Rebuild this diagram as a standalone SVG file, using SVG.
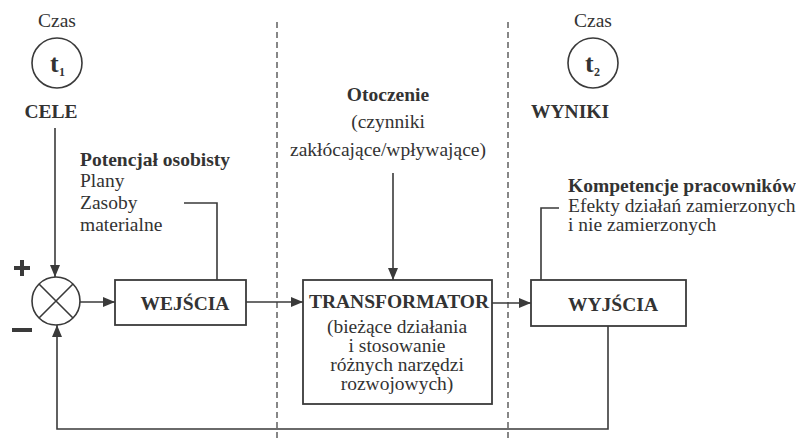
<svg xmlns="http://www.w3.org/2000/svg" width="796" height="439" viewBox="0 0 796 439">
<defs>
<style>
.t{font-family:"Liberation Serif","Times New Roman",serif;font-size:19.5px;fill:#333}
.b{font-weight:bold}
.ln{fill:none;stroke:#3a3a3a;stroke-width:1.6}
.bx{fill:#fff;stroke:#3a3a3a;stroke-width:1.8}
.dash{fill:none;stroke:#555;stroke-width:1.4;stroke-dasharray:6 4}
</style>
<marker id="ah" viewBox="0 0 12 10" refX="12" refY="5" markerWidth="12" markerHeight="10" markerUnits="userSpaceOnUse" orient="auto">
<path d="M0,0 L12,5 L0,10 Z" fill="#3a3a3a"/>
</marker>
</defs>
<rect width="796" height="439" fill="#fff"/>
<g id="dividers">
<line class="dash" x1="277" y1="22" x2="277" y2="439"/>
<line class="dash" x1="508" y1="22" x2="508" y2="439"/>
</g>
<g id="connectors">
<path class="ln" d="M55,128 V277" marker-end="url(#ah)"/>
<path class="ln" d="M80,302 H115" marker-end="url(#ah)"/>
<path class="ln" d="M246,302 H303" marker-end="url(#ah)"/>
<path class="ln" d="M492,303 H531" marker-end="url(#ah)"/>
<path class="ln" d="M393,173 V280" marker-end="url(#ah)"/>
<path class="ln" d="M184,203 H217 V280"/>
<path class="ln" d="M559,208 H541 V280"/>
<path class="ln" d="M608,326 V429 H57 V325" marker-end="url(#ah)"/>
</g>
<g id="time1">
<text class="t" x="57" y="27" text-anchor="middle">Czas</text>
<circle class="ln" cx="57" cy="63" r="25"/>
<text class="t b" x="50" y="72" style="font-size:26px">t</text>
<text class="t b" x="59" y="76" style="font-size:12px">1</text>
</g>
<g id="cele"><text class="t b" x="51" y="118" text-anchor="middle">CELE</text></g>
<g id="time2">
<text class="t" x="593" y="27" text-anchor="middle">Czas</text>
<circle class="ln" cx="593" cy="63" r="25"/>
<text class="t b" x="585" y="72" style="font-size:26px">t</text>
<text class="t b" x="594" y="76" style="font-size:12px">2</text>
</g>
<g id="wyniki"><text class="t b" x="531" y="118">WYNIKI</text></g>
<g id="potencjal">
<text class="t b" x="80" y="166">Potencjał osobisty</text>
<text class="t" x="80" y="187">Plany</text>
<text class="t" x="80" y="209">Zasoby</text>
<text class="t" x="80" y="231">materialne</text>
</g>
<g id="otoczenie">
<text class="t b" x="388" y="101" text-anchor="middle">Otoczenie</text>
<text class="t" x="388" y="128" text-anchor="middle">(czynniki</text>
<text class="t" x="388" y="156" text-anchor="middle">zakłócające/wpływające)</text>
</g>
<g id="kompetencje">
<text class="t b" x="568" y="192">Kompetencje pracowników</text>
<text class="t" x="568" y="212">Efekty działań zamierzonych</text>
<text class="t" x="568" y="231">i nie zamierzonych</text>
</g>
<g id="sum">
<circle class="ln" cx="56" cy="301" r="24"/>
<path class="ln" d="M39,284 L73,318 M73,284 L39,318"/>
<path d="M14,268 H30 M22,260 V276" stroke="#3a3a3a" stroke-width="4" fill="none"/>
<path d="M12,330 H32" stroke="#3a3a3a" stroke-width="4" fill="none"/>
</g>
<g id="wejscia">
<rect class="bx" x="115" y="280" width="131" height="45"/>
<text class="t b" x="185" y="310" text-anchor="middle">WEJŚCIA</text>
</g>
<g id="transformator">
<rect class="bx" x="303" y="280" width="189" height="124"/>
<text class="t b" x="399" y="308" text-anchor="middle">TRANSFORMATOR</text>
<text class="t" x="397" y="333" text-anchor="middle">(bieżące działania</text>
<text class="t" x="397" y="352" text-anchor="middle">i stosowanie</text>
<text class="t" x="397" y="371" text-anchor="middle">różnych narzędzi</text>
<text class="t" x="397" y="390" text-anchor="middle">rozwojowych)</text>
</g>
<g id="wyjscia">
<rect class="bx" x="531" y="280" width="155" height="46"/>
<text class="t b" x="613" y="311" text-anchor="middle">WYJŚCIA</text>
</g>
</svg>
